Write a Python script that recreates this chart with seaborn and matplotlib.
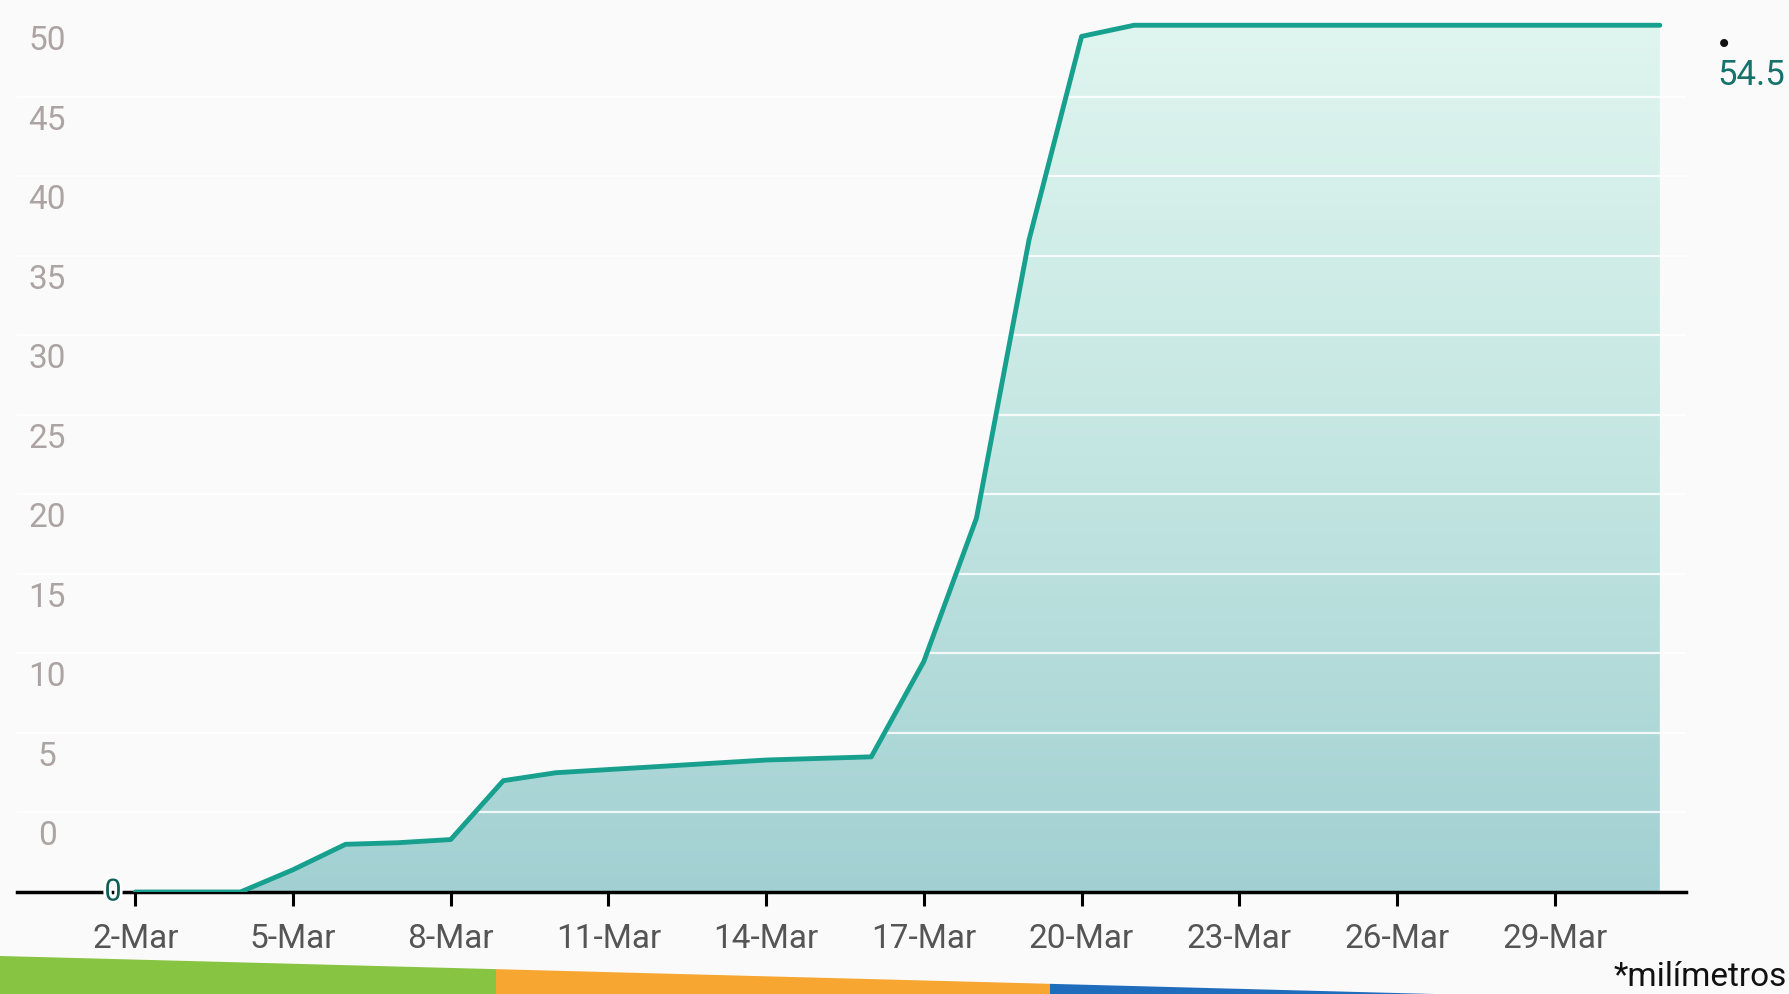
import numpy as np
import pandas as pd
import matplotlib
matplotlib.use("Agg")
import matplotlib.pyplot as plt
import matplotlib.dates as mdates
from matplotlib.colors import LinearSegmentedColormap
from matplotlib.patches import Polygon
import matplotlib.patheffects as pe
import seaborn as sns

# Data: cumulative rainfall (mm), 2-Mar to 31-Mar
days = ["2024-03-02", "2024-03-03", "2024-03-04", "2024-03-05", "2024-03-06",
        "2024-03-07", "2024-03-08", "2024-03-09", "2024-03-10", "2024-03-11",
        "2024-03-12", "2024-03-13", "2024-03-14", "2024-03-15", "2024-03-16",
        "2024-03-17", "2024-03-18", "2024-03-19", "2024-03-20", "2024-03-21",
        "2024-03-22", "2024-03-23", "2024-03-24", "2024-03-25", "2024-03-26",
        "2024-03-27", "2024-03-28", "2024-03-29", "2024-03-30", "2024-03-31"]
rain_mm = [0, 0, 0, 1.4, 3.0,
           3.1, 3.3, 7.0, 7.5, 7.7,
           7.9, 8.1, 8.3, 8.4, 8.5,
           14.5, 23.5, 41.0, 53.8, 54.5,
           54.5, 54.5, 54.5, 54.5, 54.5,
           54.5, 54.5, 54.5, 54.5, 54.5]
x_ticks = ["2024-03-02", "2024-03-05", "2024-03-08", "2024-03-11", "2024-03-14",
           "2024-03-17", "2024-03-20", "2024-03-23", "2024-03-26", "2024-03-29"]
x_tick_labels = ["2-Mar", "5-Mar", "8-Mar", "11-Mar", "14-Mar",
                 "17-Mar", "20-Mar", "23-Mar", "26-Mar", "29-Mar"]
y_ticks = [0, 5, 10, 15, 20, 25, 30, 35, 40, 45, 50]

df = pd.DataFrame({"fecha": pd.to_datetime(days), "lluvia": rain_mm})

sns.set_theme(style="white")
plt.rcParams["font.family"] = ["Roboto", "DejaVu Sans"]

line_col = "#17a08e"
W, H = 1789, 994
fig = plt.figure(figsize=(W / 100, H / 100), dpi=100, facecolor="#fbfafa")
ax = fig.add_axes([0.0095, 0.1026, 0.933, 0.896])
ax.set_facecolor("none")

xnum = mdates.date2num(df["fecha"])
x0 = mdates.date2num(pd.Timestamp("2024-02-28 18:00"))
x1 = mdates.date2num(pd.Timestamp("2024-03-31 12:00"))

# gradient fill under the curve
poly = ax.fill_between(xnum, df["lluvia"], 0, facecolor="none", edgecolor="none")
cmap = LinearSegmentedColormap.from_list("agua", ["#a2d0d2", "#c4e6e2", "#e0f5ef"])
grad = np.linspace(0, 1, 256).reshape(-1, 1)
im = ax.imshow(grad, cmap=cmap, origin="lower", aspect="auto",
               extent=[x0, x1, 0, 55], zorder=1)
im.set_clip_path(poly.get_paths()[0], transform=ax.transData)

for v in y_ticks[1:]:
    ax.axhline(v, color="white", lw=1.6, alpha=0.85, zorder=2)

sns.lineplot(data=df, x="fecha", y="lluvia", ax=ax, color=line_col,
             lw=3.5, zorder=4, solid_joinstyle="round", solid_capstyle="round")
ax.set_xlim(x0, x1)
ax.set_ylim(0, 56)

# axes styling
for s in ["top", "right", "left"]:
    ax.spines[s].set_visible(False)
ax.spines["bottom"].set_color("black")
ax.spines["bottom"].set_linewidth(2.5)
ax.set_yticks([])
ax.set_xticks(mdates.date2num(pd.to_datetime(x_ticks)))
ax.set_xticklabels(x_tick_labels)
ax.tick_params(axis="x", direction="out", length=10, width=2.2, color="black",
               pad=12, labelsize=24, labelcolor="#555555", bottom=True)
ax.set_xlabel("")
ax.set_ylabel("")

# y labels sit above their gridlines, inside the plot
trans = matplotlib.transforms.blended_transform_factory(ax.transAxes, ax.transData)
for v in y_ticks:
    ax.text(0.018, v + 3.5, str(v), transform=trans, ha="center", va="center",
            fontsize=24, color="#aca4a4")

# data labels
ax.annotate("0", (xnum[0], rain_mm[0]), xytext=(-16, 0), textcoords="offset points",
            ha="center", va="center", fontsize=22, color="#0f5e57", zorder=6,
            path_effects=[pe.withStroke(linewidth=4, foreground="white")])
ax.annotate("54.5", (xnum[-1], rain_mm[-1]), xytext=(66, -36),
            textcoords="offset points", ha="center", va="center",
            fontsize=25, color="#16726b")
ax.annotate("•", (xnum[-1], rain_mm[-1]), xytext=(46, -14),
            textcoords="offset points", ha="center", va="center",
            fontsize=20, color="#111111", family="DejaVu Sans")

fig.text(1700 / W, 1 - 977 / H, "*milímetros", ha="center", va="center",
         fontsize=24, color="#111111")

# colored bands at the bottom of the page (slanted like the photo)
def top_edge(x):
    return 956 + 0.0265 * x

for xa, xb, c in [(0, 496, "#86c441"), (496, 1050, "#f6a631"), (1050, 1789, "#1f6cbd")]:
    pts = [(xa, H), (xb, H), (xb, top_edge(xb)), (xa, top_edge(xa))]
    pts = [(px / W, 1 - py / H) for px, py in pts]
    fig.patches.append(Polygon(pts, closed=True, transform=fig.transFigure,
                               facecolor=c, edgecolor="none", zorder=0))

fig.savefig("out.png", dpi=100, facecolor=fig.get_facecolor())
